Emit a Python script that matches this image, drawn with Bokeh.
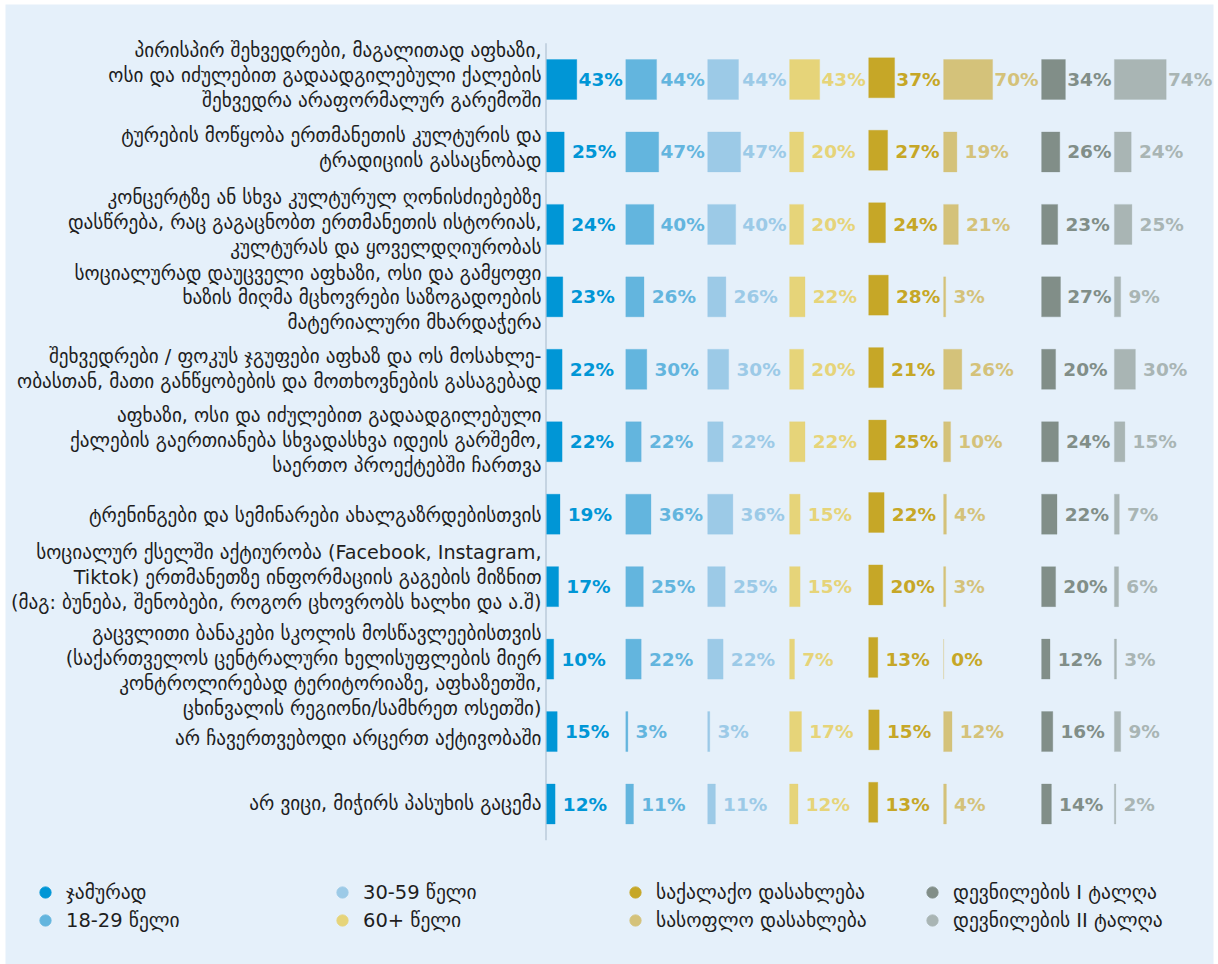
from bokeh.plotting import figure
from bokeh.models import ColumnDataSource, Range1d, Legend, LegendItem
from bokeh.core.properties import value
from bokeh.embed import file_html
from bokeh.resources import INLINE

# ---------------- data ----------------
categories = [
    "პირისპირ შეხვედრები, მაგალითად აფხაზი,\nოსი და იძულებით გადაადგილებული ქალების\nშეხვედრა არაფორმალურ გარემოში",
    "ტურების მოწყობა ერთმანეთის კულტურის და\nტრადიციის გასაცნობად",
    "კონცერტზე ან სხვა კულტურულ ღონისძიებებზე\nდასწრება, რაც გაგაცნობთ ერთმანეთის ისტორიას,\nკულტურას და ყოველდღიურობას",
    "სოციალურად დაუცველი აფხაზი, ოსი და გამყოფი\nხაზის მიღმა მცხოვრები საზოგადოების\nმატერიალური მხარდაჭერა",
    "შეხვედრები / ფოკუს ჯგუფები აფხაზ და ოს მოსახლე-\nობასთან, მათი განწყობების და მოთხოვნების გასაგებად",
    "აფხაზი, ოსი და იძულებით გადაადგილებული\nქალების გაერთიანება სხვადასხვა იდეის გარშემო,\nსაერთო პროექტებში ჩართვა",
    "ტრენინგები და სემინარები ახალგაზრდებისთვის",
    "სოციალურ ქსელში აქტიურობა (Facebook, Instagram,\nTiktok) ერთმანეთზე ინფორმაციის გაგების მიზნით\n(მაგ: ბუნება, შენობები, როგორ ცხოვრობს ხალხი და ა.შ)",
    "გაცვლითი ბანაკები სკოლის მოსწავლეებისთვის\n(საქართველოს ცენტრალური ხელისუფლების მიერ\nკონტროლირებად ტერიტორიაზე, აფხაზეთში,\nცხინვალის რეგიონი/სამხრეთ ოსეთში)",
    "არ ჩავერთვებოდი არცერთ აქტივობაში",
    "არ ვიცი, მიჭირს პასუხის გაცემა",
]

series_names = [
    "ჯამურად",
    "18-29 წელი",
    "30-59 წელი",
    "60+ წელი",
    "საქალაქო დასახლება",
    "სასოფლო დასახლება",
    "დევნილების I ტალღა",
    "დევნილების II ტალღა",
]

total    = [43, 25, 24, 23, 22, 22, 19, 17, 10, 15, 12]
age18_29 = [44, 47, 40, 26, 30, 22, 36, 25, 22, 3, 11]
age30_59 = [44, 47, 40, 26, 30, 22, 36, 25, 22, 3, 11]
age60    = [43, 20, 20, 22, 20, 22, 15, 15, 7, 17, 12]
urban    = [37, 27, 24, 28, 21, 25, 22, 20, 13, 15, 13]
rural    = [70, 19, 21, 3, 26, 10, 4, 3, 0, 12, 4]
idp1     = [34, 26, 23, 27, 20, 24, 22, 20, 12, 16, 14]
idp2     = [74, 24, 25, 9, 30, 15, 7, 6, 3, 9, 2]

series_values = [total, age18_29, age30_59, age60, urban, rural, idp1, idp2]

colors = ["#0096d6", "#63b5de", "#9ccae7", "#e6d479",
          "#c6a727", "#d4c27a", "#818e88", "#a9b5b4"]

# ---------------- layout constants ----------------
FW, FH = 1208, 960          # plot frame size
BG = "#e5f0fa"
PX_PER_UNIT = 0.7           # pixels per percentage point
ROW_PX = 72.45              # pixels between rows
AXIS_PX = 540.5             # separator position (frame px)
FIRST_ROW_PX = 75           # centre of first row (frame px)
COL_GAP = 70                # gap (in % units) after each column's maximum
BAR_H = 40 / ROW_PX
label_nudge_px = [-4, -4, -2, 1, 0, -1, 1, -9, 12, 7, -1]
bar_shift_px = [0, 0, 0, 0, -1.7, 0, 0, 0]

x0 = -AXIS_PX / PX_PER_UNIT
p = figure(
    width=FW + 10, height=FH + 4,
    x_range=Range1d(x0, x0 + FW / PX_PER_UNIT),
    y_range=Range1d((FH - FIRST_ROW_PX) / ROW_PX, -FIRST_ROW_PX / ROW_PX),
    x_axis_type=None, y_axis_type=None,
    output_backend="svg", toolbar_location=None,
    min_border_left=5, min_border_right=5, min_border_top=4, min_border_bottom=0,
    outline_line_color=None,
    background_fill_color=BG, border_fill_color="white",
)
p.xgrid.visible = False
p.ygrid.visible = False

rows = list(range(len(categories)))

# category labels
p.text(
    x=[-4.5 / PX_PER_UNIT] * len(rows),
    y=[r + n / ROW_PX for r, n in zip(rows, label_nudge_px)],
    text=categories,
    text_align="right", text_baseline="middle",
    text_font=value("DejaVu Sans"), text_font_size="19.2px",
    text_color="#1e1e1e", text_line_height=1.08,
)

# separator line
p.segment(x0=[0], y0=[-0.5], x1=[0], y1=[len(rows) - 0.5],
          line_color="#c5d4e2", line_width=2)

# bars + labels
offset = 1.0
legend_renderers = []
for vals, name, col, shift in zip(series_values, series_names, colors, bar_shift_px):
    vmax = max(vals)
    src = ColumnDataSource(dict(
        y=[r + shift / ROW_PX for r in rows],
        left=[offset] * len(vals),
        right=[offset + v for v in vals],
    ))
    p.hbar(y="y", left="left", right="right", height=BAR_H, source=src,
           fill_color=col, line_color=col, line_alpha=0.6, line_width=0.5)
    lab_colors = [colors[4] if v == 0 else col for v in vals]
    lsrc = ColumnDataSource(dict(
        x=[offset + min(v + 11, vmax + 2.5) for v in vals],
        y=rows,
        t=[f"{v}%" for v in vals],
        c=lab_colors,
    ))
    p.text(x="x", y="y", text="t", source=lsrc, text_color="c",
           text_align="left", text_baseline="middle",
           text_font=value("DejaVu Sans"), text_font_size="18.5px",
           text_font_style="bold")
    r = p.scatter(x=[float("nan")], y=[float("nan")], marker="circle", size=10,
                  fill_color=col, line_color=col)
    legend_renderers.append(r)
    offset += vmax + COL_GAP

# legend: four columns of two items
legend_left = [26, 323, 616, 913]
for i, lx in enumerate(legend_left):
    items = [LegendItem(label=series_names[2 * i + k],
                        renderers=[legend_renderers[2 * i + k]]) for k in range(2)]
    leg = Legend(items=items, location=(lx, 30), orientation="vertical",
                 glyph_width=28, glyph_height=28, label_height=28,
                 spacing=0, padding=0, margin=0, label_standoff=7,
                 border_line_color=None, background_fill_alpha=0,
                 label_text_font="DejaVu Sans", label_text_font_size="19.5px",
                 label_text_color="#1e1e1e")
    p.add_layout(leg)

open("out.html", "w").write(file_html(p, INLINE))
